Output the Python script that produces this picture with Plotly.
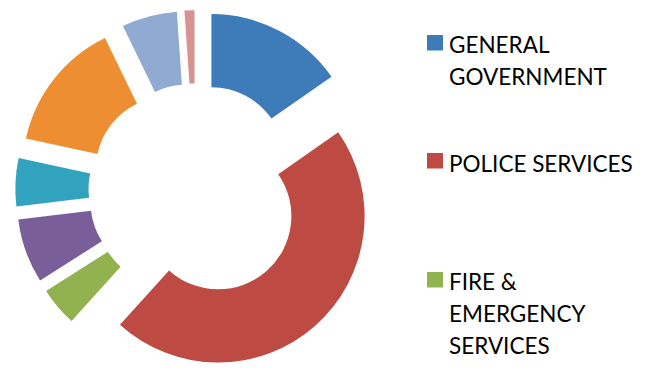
import plotly.graph_objects as go

# Data (shares, clockwise from 12 o'clock)
categories = [
    "GENERAL GOVERNMENT",
    "POLICE SERVICES",
    "FIRE & EMERGENCY SERVICES",
    "CATEGORY 4",
    "CATEGORY 5",
    "CATEGORY 6",
    "CATEGORY 7",
    "CATEGORY 8",
]
values = [15.3, 46.4, 4.3, 7.1, 5.3, 14.4, 6.1, 1.1]
colors = ["#3D7BB9", "#BD4A43", "#92B24F", "#7A5E9A", "#31A3BE", "#EC8E31", "#91AAD2", "#D69391"]

# legend (only first three entries visible, like the reference)
legend_lines = [
    ["GENERAL", "GOVERNMENT"],
    ["POLICE SERVICES"],
    ["FIRE &", "EMERGENCY", "SERVICES"],
]

W, H = 645, 371
cx, cy = 195.7, 190.6
outer_r = 146.5
pull = 0.232
half = min(outer_r * (1 + pull), H - cy)

fig = go.Figure(go.Pie(
    labels=categories,
    values=values,
    marker=dict(colors=colors, line=dict(width=0)),
    hole=0.5,
    pull=[pull] * len(values),
    sort=False,
    direction="clockwise",
    rotation=0,
    textinfo="none",
    showlegend=False,
    domain=dict(x=[(cx - half) / W, (cx + half) / W],
                y=[max(0, 1 - (cy + half) / H), 1 - (cy - half) / H]),
))

annotations = []
shapes = []
square_tops = [35, 153, 272]
line_centers = [[44.5, 77], [163], [281, 313, 345]]
for i, lines in enumerate(legend_lines):
    t = square_tops[i]
    shapes.append(dict(type="rect", xref="paper", yref="paper",
                       x0=427 / W, x1=443 / W, y0=1 - (t + 15.5) / H, y1=1 - t / H,
                       fillcolor=colors[i], line=dict(width=0)))
    for j, line in enumerate(lines):
        annotations.append(dict(text=line, xref="paper", yref="paper",
                                x=447 / W, y=1 - line_centers[i][j] / H,
                                xanchor="left", yanchor="middle", showarrow=False,
                                font=dict(family="Lato", size=22.5, color="#000000")))

fig.update_layout(
    width=W, height=H,
    margin=dict(l=0, r=0, t=0, b=0),
    paper_bgcolor="white",
    plot_bgcolor="white",
    annotations=annotations,
    shapes=shapes,
)

fig.write_html("out.html")
